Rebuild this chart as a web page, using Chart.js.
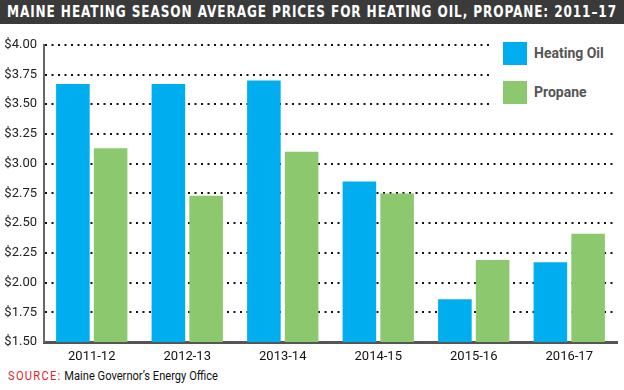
<!DOCTYPE html>
<html><head><meta charset="utf-8">
<script src="https://cdn.jsdelivr.net/npm/chart.js@4/dist/chart.umd.min.js"></script>
<style>
html,body{margin:0;padding:0;background:#fff;width:624px;height:390px;overflow:hidden;position:relative;}
#title{position:absolute;left:0;top:0;width:624px;height:24px;background:#3a3a3a;}
#tt{position:absolute;left:7px;top:0;color:#fff;transform-origin:0 50%;
 font-family:"DejaVu Sans Condensed","DejaVu Sans",sans-serif;font-weight:bold;font-size:15px;line-height:24px;letter-spacing:1px;white-space:nowrap;}
#wrap{position:absolute;left:0;top:30px;width:624px;height:338px;}
#legend{position:absolute;left:490px;top:32px;width:134px;height:90px;background:#fff;}
.li{position:absolute;left:13px;font-family:"Liberation Sans Narrow","Roboto",sans-serif;font-weight:bold;font-size:14px;color:#555;}
.sw{position:absolute;left:0;width:24px;height:23px;}
.lt{position:absolute;left:31px;white-space:nowrap;}
#source{position:absolute;left:8px;top:368px;transform-origin:0 50%;font-family:"Liberation Sans Narrow","Roboto",sans-serif;font-size:13px;color:#111;white-space:nowrap;}
#source span{color:#e0262b;letter-spacing:1.5px;}
</style></head>
<body>
<div id="title"><div id="tt">MAINE HEATING SEASON AVERAGE PRICES FOR HEATING OIL, PROPANE: 2011–17</div></div>
<div id="wrap"><canvas id="c"></canvas></div>
<div id="legend">
 <div class="li" style="top:10px"><div class="sw" style="top:0;background:#00aeef"></div><div class="lt" style="top:3px">Heating Oil</div></div>
 <div class="li" style="top:49px"><div class="sw" style="top:0;background:#8cc96e"></div><div class="lt" style="top:3px">Propane</div></div>
</div>
<div id="source"><span>SOURCE:</span> Maine Governor’s Energy Office</div>
<script>
const categories = ["2011-12","2012-13","2013-14","2014-15","2015-16","2016-17"];
const heatingOil = [3.67, 3.67, 3.70, 2.85, 1.86, 2.17];
const propane = [3.13, 2.73, 3.10, 2.75, 2.19, 2.41];
const seriesNames = ["Heating Oil","Propane"];
const seriesColors = ["#00aeef","#8cc96e"];

function fitWidth(id, target){
  const t = document.getElementById(id);
  const w = t.getBoundingClientRect().width;
  t.style.transform = 'scaleX(' + (target / w) + ')';
}
fitWidth('tt', 610);
fitWidth('source', 210);

new Chart(document.getElementById('c'), {
  type: 'bar',
  data: {
    labels: categories,
    datasets: [
      {label: seriesNames[0], data: heatingOil, backgroundColor: seriesColors[0], barPercentage: 0.89, categoryPercentage: 0.79},
      {label: seriesNames[1], data: propane, backgroundColor: seriesColors[1], barPercentage: 0.89, categoryPercentage: 0.79}
    ]
  },
  options: {
    responsive: true, maintainAspectRatio: false, animation: false,
    layout: {padding: {top: 13, right: 7, left: 0, bottom: 0}},
    plugins: {legend: {display: false}, tooltip: {enabled: false}},
    scales: {
      x: {
        grid: {display: false, drawTicks: false},
        border: {display: true, color: '#555', width: 3},
        ticks: {color: '#111', font: {family: '"Liberation Sans Narrow", Roboto, sans-serif', size: 13}, padding: 7},
        afterFit: s => { s.height = 26; }
      },
      y: {
        min: 1.5, max: 4.0,
        grid: {color: '#111', lineWidth: 2, drawTicks: false},
        border: {display: true, color: '#666', width: 2, dash: [2, 4.5]},
        ticks: {stepSize: 0.25, padding: 7, color: '#222',
          font: {family: '"Liberation Sans Narrow", Roboto, sans-serif', size: 13},
          callback: v => '$' + Number(v).toFixed(2)},
        afterFit: s => { s.width = 44; }
      }
    }
  }
});
</script>
</body></html>
